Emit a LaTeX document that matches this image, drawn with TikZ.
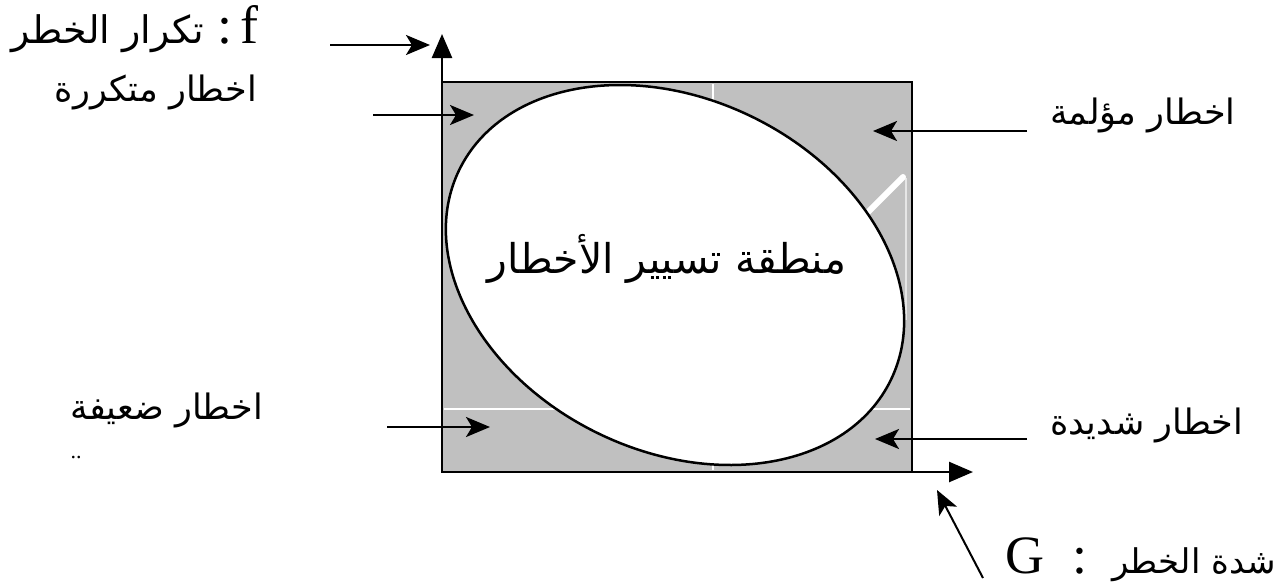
\documentclass[tikz,border=0pt]{standalone}
\usepackage{fontspec}
\setmainfont{Liberation Serif}
\newfontfamily\arabicfont[Script=Arabic]{DejaVu Sans}
\TeXXeTstate=1
\usetikzlibrary{arrows.meta,positioning,shapes.geometric}
\definecolor{zonegray}{HTML}{C0C0C0}
\newcommand{\arlabel}{\arabicfont\fontsize{35}{42}\selectfont}
\newcommand{\araxis}{\arabicfont\fontsize{38}{46}\selectfont}
\newcommand{\arbig}{\arabicfont\fontsize{41}{48}\selectfont}

\begin{document}
\begin{tikzpicture}[
  x=1pt, y=-1pt,
  riskbox/.style={draw, line width=2.5pt, fill=zonegray, inner sep=0pt, outer sep=0pt, minimum width=470pt, minimum height=390pt},
  zone/.style={ellipse, draw, line width=2.5pt, fill=white, inner sep=0pt, minimum width=480pt, minimum height=352pt, rotate=-26},
  risklabel/.style={font=\arlabel, inner sep=0pt},
  axislabel/.style={font=\araxis, inner sep=0pt},
  latin/.style={font=\fontsize{54}{64}\selectfont, inner sep=0pt},
  arrow/.style={-{Stealth[length=24pt, width=20pt, inset=6pt]}, line width=2.5pt},
  axis/.style={-{Triangle[length=24pt, width=20pt]}, line width=2.5pt},
  seam/.style={white, line width=2pt}
]
\useasboundingbox (0,0) rectangle (1279,587);

% box and hidden region seams
\node[riskbox, anchor=north west] (box) at (442,82) {};
\draw[seam] (713,84) -- (713,470);
\draw[seam] (444,409) -- (910,409);
\draw[white!60!zonegray, line width=2pt] (906,178) -- (906,320);
\draw[white, line width=6pt, line cap=round] (864,216) -- (903,177);
\node[zone] (zone) at (675,275) {};
\node[font=\arbig, inner sep=0pt, anchor=base] (zonetext) at (667,273) {\beginR منطقة تسيير الأخطار\endR};

% axes
\coordinate (ytip) at (442,34);
\coordinate (xtip) at (973,472);
\draw[axis] (box.south west) -- (ytip);
\draw[axis] (box.south east) -- (xtip);

% axis labels
\node[latin, anchor=base east] (freq) at (259,43) {:\hspace{8pt}f};
\node[axislabel, anchor=base east] (freqtext) at (204,43) {\beginR تكرار الخطر\endR};
\node[latin, anchor=base west] (grav) at (1005,573) {G\hspace{28pt}:};
\node[font=\arabicfont\fontsize{34}{40}\selectfont, inner sep=0pt, anchor=base west] (gravtext) at (1112,573) {\beginR شدة الخطر\endR};

% risk labels
\node[risklabel, anchor=base east] (frequent) at (257,101) {\beginR اخطار متكررة\endR};
\node[risklabel, anchor=base east] (weak) at (263,419) {\beginR اخطار ضعيفة\endR};
\node[font=\fontsize{22}{24}\selectfont, inner sep=0pt] (dots) at (76,458) {..};
\node[risklabel, anchor=base west] (painful) at (1050,124) {\beginR اخطار مؤلمة\endR};
\node[risklabel, anchor=base west] (severe) at (1050,434) {\beginR اخطار شديدة\endR};

% arrow ends
\coordinate (freqtail) at (330,45);
\coordinate (freqhead) at (430,45);
\coordinate (frequenttail) at (373,115);
\coordinate (frequenthead) at (474,115);
\coordinate (weaktail) at (387,427);
\coordinate (weakhead) at (490,427);
\coordinate (painfultail) at (1027,131);
\coordinate (painfulhead) at (873,131);
\coordinate (severetail) at (1027,439);
\coordinate (severehead) at (875,439);
\coordinate (gravtail) at (983,578);
\coordinate (gravhead) at (937,490);

\draw[arrow] (freqtail) -- (freqhead);
\draw[arrow] (frequenttail) -- (frequenthead);
\draw[arrow] (weaktail) -- (weakhead);
\draw[arrow] (painfultail) -- (painfulhead);
\draw[arrow] (severetail) -- (severehead);
\draw[arrow, line width=2pt] (gravtail) -- (gravhead);
\end{tikzpicture}
\end{document}
